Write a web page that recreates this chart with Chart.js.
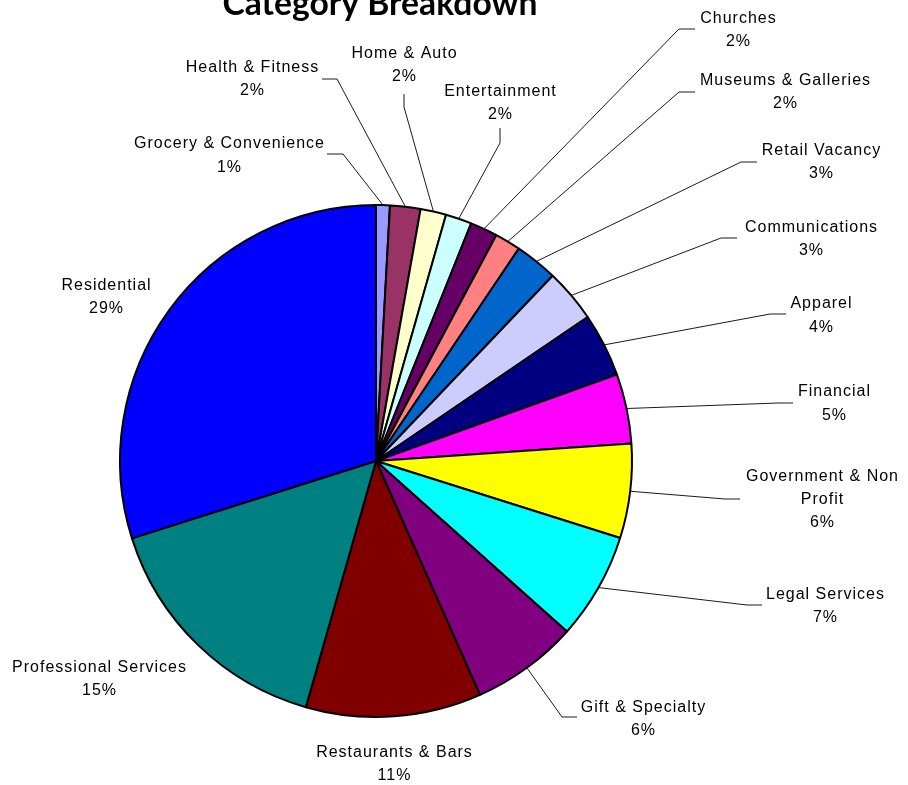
<!DOCTYPE html>
<html>
<head>
<meta charset="utf-8">
<script src="https://cdn.jsdelivr.net/npm/chart.js@4/dist/chart.umd.min.js"></script>
<style>
  html, body { margin: 0; padding: 0; background: #ffffff; }
  #wrap { width: 908px; height: 785px; position: relative; }
</style>
</head>
<body>
<div id="wrap"><canvas id="c" width="908" height="785"></canvas></div>
<script>
// ---- data ----
const chartTitle = 'Category Breakdown';
const categories = [
  'Grocery & Convenience', 'Health & Fitness', 'Home & Auto', 'Entertainment',
  'Churches', 'Museums & Galleries', 'Retail Vacancy', 'Communications',
  'Apparel', 'Financial', 'Government & Non Profit', 'Legal Services',
  'Gift & Specialty', 'Restaurants & Bars', 'Professional Services', 'Residential'
];
const values = [0.87, 1.92, 1.62, 1.65, 1.73, 1.63, 2.70, 3.37, 4.03, 4.38, 5.96, 6.73, 6.74, 11.08, 15.69, 29.88];
const percentLabels = ['1%', '2%', '2%', '2%', '2%', '2%', '3%', '3%', '4%', '5%', '6%', '7%', '6%', '11%', '15%', '29%'];

// ---- styles ----
const sliceColors = [
  '#9999FF', '#993366', '#FFFFCC', '#CCFFFF', '#660066', '#FF8080', '#0066CC', '#CCCCFF',
  '#000080', '#FF00FF', '#FFFF00', '#00FFFF', '#800080', '#800000', '#008080', '#0000FF'
];

// ---- label layout (text centre x, line baselines, leader elbow points) ----
const labelLayout = [
  { x: 229, y: [148, 172], leader: [[343, 154], [327, 154]] },
  { x: 252, y: [72, 95],   leader: [[337, 79], [322, 79]] },
  { x: 404, y: [58, 81],   leader: [[404, 107], [404, 94]] },
  { x: 500, y: [96, 119],  leader: [[500, 143], [500, 128]] },
  { x: 738, y: [23, 46],   leader: [[679, 29], [695, 29]] },
  { x: 785, y: [85, 108],  leader: [[679, 92], [695, 92]] },
  { x: 821, y: [155, 178], leader: [[741, 162], [757, 162]] },
  { x: 811, y: [232, 255], leader: [[721, 238], [737, 238]] },
  { x: 821, y: [308, 332], leader: [[770, 314], [786, 314]] },
  { x: 834, y: [396, 420], leader: [[778, 403], [793, 403]] },
  { x: 822, y: [481, 504, 527], leader: [[725, 499], [740, 499]], maxW: 165 },
  { x: 825, y: [599, 622], leader: [[747, 605], [762, 605]] },
  { x: 643, y: [712, 735], leader: [[562, 717], [577, 717]] },
  { x: 394, y: [757, 780], leader: null },
  { x: 99,  y: [672, 695], leader: null },
  { x: 106, y: [290, 313], leader: null }
];

const labelFont = '16px "Liberation Sans", Arial, sans-serif';

function wrapText(ctx, text, maxW) {
  if (!maxW) return [text];
  const words = text.split(' ');
  const lines = [];
  let cur = '';
  words.forEach(w => {
    const test = cur ? cur + ' ' + w : w;
    if (cur && ctx.measureText(test).width > maxW) { lines.push(cur); cur = w; }
    else cur = test;
  });
  if (cur) lines.push(cur);
  return lines;
}

const labelPlugin = {
  id: 'excelLabels',
  afterDraw(chart) {
    const ctx = chart.ctx;
    const arcs = chart.getDatasetMeta(0).data;
    ctx.save();
    // leader lines
    ctx.strokeStyle = '#1a1a1a';
    ctx.lineWidth = 1;
    arcs.forEach((arc, i) => {
      const L = labelLayout[i];
      if (!L || !L.leader) return;
      const p = arc.getProps(['x', 'y', 'startAngle', 'endAngle', 'outerRadius'], true);
      const mid = (p.startAngle + p.endAngle) / 2;
      const ex = p.x + Math.cos(mid) * p.outerRadius;
      const ey = p.y + Math.sin(mid) * p.outerRadius;
      ctx.beginPath();
      ctx.moveTo(ex, ey);
      L.leader.forEach(pt => ctx.lineTo(pt[0], pt[1]));
      ctx.stroke();
    });
    // label text
    ctx.fillStyle = '#000000';
    ctx.font = labelFont;
    ctx.textAlign = 'center';
    ctx.textBaseline = 'alphabetic';
    try { ctx.letterSpacing = '1px'; } catch (e) {}
    categories.forEach((name, i) => {
      const L = labelLayout[i];
      const lines = wrapText(ctx, name, L.maxW).concat([percentLabels[i]]);
      lines.forEach((t, k) => ctx.fillText(t, L.x + 0.5, L.y[k]));
    });
    // title
    try { ctx.letterSpacing = '0px'; } catch (e) {}
    let size = 26;
    ctx.font = 'bold ' + size + 'px Lato, "Open Sans", sans-serif';
    const w = ctx.measureText(chartTitle).width;
    size = size * 315 / w;
    ctx.font = 'bold ' + size.toFixed(2) + 'px Lato, "Open Sans", sans-serif';
    ctx.fillText(chartTitle, 380, 15);
    ctx.restore();
  }
};

new Chart(document.getElementById('c'), {
  type: 'pie',
  data: {
    labels: categories,
    datasets: [{
      data: values,
      backgroundColor: sliceColors,
      borderColor: '#000000',
      borderWidth: 2
    }]
  },
  options: {
    responsive: false,
    animation: false,
    devicePixelRatio: 1,
    radius: 256,
    layout: { padding: { left: 0, right: 156, top: 137, bottom: 0 } },
    plugins: {
      legend: { display: false },
      title: { display: false },
      tooltip: { enabled: false }
    }
  },
  plugins: [labelPlugin]
});
</script>
</body>
</html>
